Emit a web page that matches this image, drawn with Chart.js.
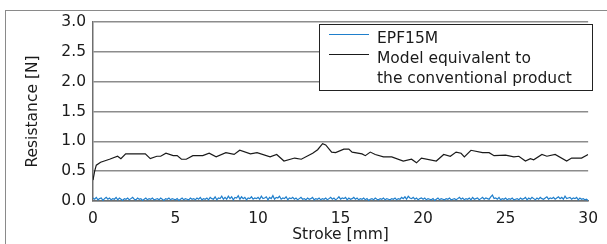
<!DOCTYPE html>
<html>
<head>
<meta charset="utf-8">
<script src="https://cdn.jsdelivr.net/npm/chart.js@4"></script>
<style>
  body { margin: 0; background: #fff; }
  #wrap { position: relative; width: 607px; height: 244px; }
  #frame { position: absolute; left: 5px; top: 10px; right: 0; bottom: 0;
           border-left: 1px solid #8a8a8a; border-top: 1px solid #8a8a8a; }
  canvas { position: absolute; left: 0; top: 0; }
</style>
</head>
<body>
<div id="wrap">
  <div id="frame"></div>
  <canvas id="chart" width="607" height="244"></canvas>
</div>
<script>
// conventional product (stroke mm / resistance N)
const convStroke = [0, 0.1, 0.2, 0.46, 1.0, 1.49, 1.69, 1.98, 3.17, 3.47, 3.87, 4.1, 4.42, 4.86, 5.1,
  5.36, 5.65, 6.05, 6.65, 7.04, 7.46, 8.05, 8.55, 8.89, 9.54, 9.94, 10.73, 11.13, 11.57, 12.22,
  12.62, 13.31, 13.61, 13.91, 14.1, 14.46, 14.7, 15.2, 15.5, 15.7, 16.3, 16.5, 16.8, 17.1, 17.6,
  18.1, 18.8, 19.3, 19.6, 19.9, 20.8, 21.25, 21.65, 22.0, 22.3, 22.5, 22.9, 23.6, 24.0, 24.3,
  25.0, 25.5, 25.8, 26.2, 26.5, 26.7, 27.2, 27.5, 28.0, 28.7, 29.0, 29.6, 30.0];
const convResistance = [0.35, 0.5, 0.6, 0.65, 0.70, 0.75, 0.71, 0.79, 0.79, 0.71, 0.75, 0.75, 0.80, 0.76, 0.76,
  0.70, 0.70, 0.76, 0.76, 0.80, 0.74, 0.81, 0.78, 0.85, 0.79, 0.81, 0.74, 0.78, 0.67, 0.72,
  0.70, 0.80, 0.86, 0.96, 0.94, 0.82, 0.81, 0.87, 0.87, 0.82, 0.79, 0.76, 0.82, 0.78, 0.74,
  0.74, 0.67, 0.70, 0.64, 0.72, 0.67, 0.78, 0.75, 0.82, 0.80, 0.74, 0.85, 0.81, 0.81, 0.76,
  0.77, 0.74, 0.75, 0.67, 0.71, 0.69, 0.78, 0.75, 0.78, 0.67, 0.72, 0.72, 0.78];

// EPF15M, sampled evenly over 0-30 mm (0.1 mm steps)
const epfResistance = [
  0.05, 0.03, 0.06, 0.02, 0.04, 0.05, 0.01, 0.04, 0.06, 0.03, 0.05, 0.02, 0.04, 0.03, 0.06, 0.02, 0.05, 0.03, 0.01, 0.04,
  0.03, 0.05, 0.02, 0.04, 0.06, 0.03, 0.02, 0.05, 0.03, 0.04, 0.01, 0.03, 0.05, 0.02, 0.04, 0.03, 0.05, 0.02, 0.03, 0.04,
  0.02, 0.05, 0.03, 0.01, 0.04, 0.03, 0.05, 0.02, 0.04, 0.03, 0.02, 0.04, 0.01, 0.03, 0.05, 0.02, 0.04, 0.03, 0.02, 0.05,
  0.03, 0.04, 0.02, 0.05, 0.03, 0.06, 0.02, 0.04, 0.03, 0.05, 0.02, 0.06, 0.04, 0.03, 0.07, 0.02, 0.05, 0.04, 0.08, 0.03,
  0.06, 0.03, 0.08, 0.04, 0.07, 0.02, 0.06, 0.05, 0.09, 0.03, 0.07, 0.04, 0.06, 0.02, 0.05, 0.04, 0.07, 0.03, 0.05, 0.04,
  0.06, 0.03, 0.08, 0.04, 0.05, 0.07, 0.02, 0.06, 0.04, 0.09, 0.03, 0.06, 0.05, 0.08, 0.03, 0.05, 0.04, 0.07, 0.02, 0.05,
  0.04, 0.06, 0.03, 0.05, 0.02, 0.04, 0.06, 0.03, 0.04, 0.02, 0.05, 0.03, 0.04, 0.06, 0.02, 0.04, 0.03, 0.05, 0.02, 0.04,
  0.03, 0.05, 0.02, 0.04, 0.06, 0.03, 0.05, 0.02, 0.04, 0.07, 0.03, 0.05, 0.04, 0.06, 0.02, 0.05, 0.03, 0.04, 0.06, 0.03,
  0.05, 0.02, 0.04, 0.03, 0.05, 0.02, 0.04, 0.01, 0.03, 0.04, 0.02, 0.05, 0.03, 0.02, 0.04, 0.03, 0.05, 0.02, 0.04, 0.03,
  0.02, 0.04, 0.03, 0.05, 0.02, 0.04, 0.03, 0.06, 0.04, 0.07, 0.03, 0.08, 0.05, 0.04, 0.06, 0.03, 0.05, 0.02, 0.04, 0.05,
  0.03, 0.05, 0.02, 0.04, 0.03, 0.02, 0.04, 0.01, 0.03, 0.05, 0.02, 0.04, 0.03, 0.02, 0.04, 0.03, 0.05, 0.02, 0.03, 0.04,
  0.02, 0.04, 0.06, 0.03, 0.05, 0.02, 0.04, 0.03, 0.05, 0.02, 0.06, 0.03, 0.04, 0.05, 0.02, 0.04, 0.06, 0.03, 0.05, 0.04,
  0.03, 0.07, 0.10, 0.04, 0.05, 0.03, 0.06, 0.02, 0.04, 0.03, 0.05, 0.02, 0.04, 0.03, 0.05, 0.02, 0.03, 0.04, 0.02, 0.05,
  0.03, 0.04, 0.06, 0.02, 0.05, 0.03, 0.06, 0.04, 0.02, 0.05, 0.03, 0.06, 0.04, 0.03, 0.05, 0.07, 0.03, 0.05, 0.04, 0.06,
  0.03, 0.05, 0.07, 0.04, 0.06, 0.03, 0.08, 0.04, 0.05, 0.06, 0.03, 0.05, 0.04, 0.06, 0.02, 0.05, 0.03, 0.04, 0.02, 0.03,
  0.01
];
const strokeMax = 30;

const legendLines = [
  ["EPF15M"],
  ["Model equivalent to", "the conventional product"]
];

const FONT = "'DejaVu Sans', sans-serif";
const FONT_SIZE = 15.5;

const convPoints = convStroke.map((x, i) => ({ x: x, y: convResistance[i] }));
const epfPoints = epfResistance.map((v, i) => ({ x: i * strokeMax / (epfResistance.length - 1), y: v }));

// boxed legend drawn inside the plot, like the original
const boxLegend = {
  id: "boxLegend",
  afterDraw(chart) {
    const ctx = chart.ctx;
    const left = 319.5, top = 24.5, w = 273, h = 66;
    ctx.save();
    ctx.fillStyle = "#fff";
    ctx.fillRect(left, top, w, h);
    ctx.strokeStyle = "#222";
    ctx.lineWidth = 1;
    ctx.strokeRect(left, top, w, h);
    ctx.font = FONT_SIZE + "px " + FONT;
    ctx.textBaseline = "alphabetic";
    ctx.fillStyle = "#1a1a1a";
    let y = 43;
    chart.data.datasets.forEach((ds, i) => {
      ctx.strokeStyle = ds.borderColor;
      ctx.lineWidth = 1.2;
      ctx.beginPath();
      ctx.moveTo(329, y - 8.5);
      ctx.lineTo(369, y - 8.5);
      ctx.stroke();
      legendLines[i].forEach(line => {
        ctx.fillText(line, 377, y);
        y += 20;
      });
    });
    ctx.restore();
  }
};

new Chart(document.getElementById("chart"), {
  type: "line",
  data: {
    datasets: [
      {
        label: "EPF15M",
        data: epfPoints,
        borderColor: "#1f7fcc",
        borderWidth: 1.2,
        pointRadius: 0,
        tension: 0
      },
      {
        label: "Model equivalent to the conventional product",
        data: convPoints,
        borderColor: "#1a1a1a",
        borderWidth: 1.2,
        pointRadius: 0,
        tension: 0
      }
    ]
  },
  options: {
    responsive: false,
    animation: false,
    layout: { padding: { top: 22, right: 10, left: 0, bottom: 0 } },
    plugins: { legend: { display: false }, tooltip: { enabled: false } },
    scales: {
      x: {
        type: "linear",
        min: 0,
        max: 30,
        afterFit: s => { s.height = 43; },
        ticks: { stepSize: 5, color: "#1a1a1a", font: { family: FONT, size: FONT_SIZE }, padding: 9, maxRotation: 0 },
        grid: { color: "rgba(0,0,0,0)", drawTicks: false },
        border: { display: true, color: "#6e6e6e", width: 1.5 },
        title: { display: true, text: "Stroke [mm]", color: "#1a1a1a", font: { family: FONT, size: FONT_SIZE }, padding: { top: 0, bottom: 0 } }
      },
      y: {
        min: 0,
        max: 3,
        afterFit: s => { s.width = 93; },
        ticks: { stepSize: 0.5, color: "#1a1a1a", font: { family: FONT, size: FONT_SIZE }, padding: 7, callback: v => v.toFixed(1) },
        grid: { color: "#8c8c8c", lineWidth: 1.5, drawTicks: false },
        border: { display: true, color: "#6e6e6e", width: 1.5 },
        title: { display: true, text: "Resistance [N]", color: "#1a1a1a", font: { family: FONT, size: FONT_SIZE }, padding: { top: 24, bottom: 0 } }
      }
    }
  },
  plugins: [boxLegend]
});
</script>
</body>
</html>
